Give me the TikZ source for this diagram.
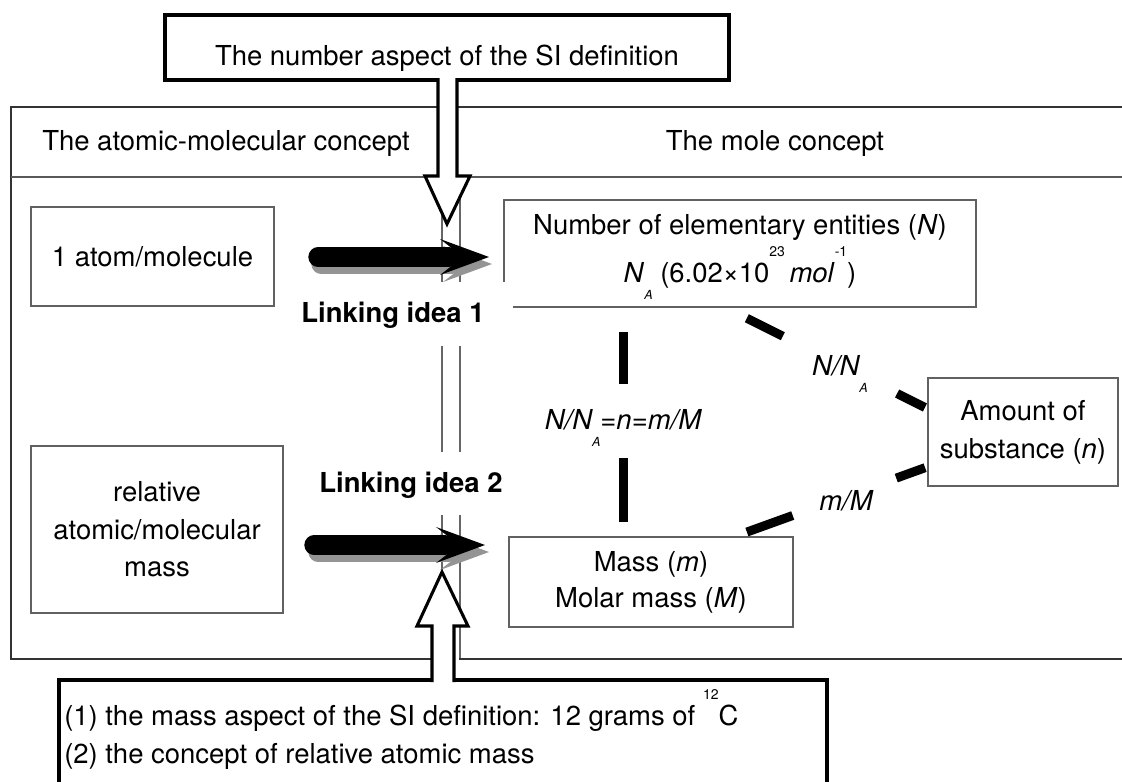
\documentclass[tikz,border=0pt]{standalone}
\usepackage{fontspec}
\setmainfont{TeX Gyre Heros}
\usetikzlibrary{calc}
\newcommand{\lowA}[1]{\smash{\raisebox{-12.75pt}{\fontsize{9.4}{10}\selectfont\itshape #1}}}
\newcommand{\hisup}[1]{\smash{\raisebox{19.5pt}{\fontsize{10.5}{11}\selectfont #1}}}
\newcommand{\fatarr}[3]{%
  \draw[#3,line width=14.5pt,line cap=round] (#1-171,#2) -- (#1-40,#2);
  \fill[#3] (#1-49,#2-18) -- (#1,#2) -- (#1-49,#2+18) -- (#1-38,#2+9.5) -- (#1-38,#2-9.5) -- cycle;}
\begin{document}
\begin{tikzpicture}[x=0.75pt,y=-0.75pt,
  txt/.style={font=\fontsize{20.6}{24}\selectfont, inner sep=0pt},
  ibox/.style={txt, draw=black!62, line width=1.5pt, align=center},
  blk/.style={draw=black, line width=2.3pt},
  mainl/.style={draw=black!80, line width=1.9pt},
  sepl/.style={draw=black!65, line width=1.5pt},
  divl/.style={draw=black!60, line width=1.1pt},
  conn/.style={draw=black, line width=6.75pt},
  hollow/.style={draw=black, line width=2.3pt, fill=white, line join=miter},
  lbl/.style={txt, font=\fontsize{20.6}{24}\selectfont\itshape},
  bld/.style={txt, font=\fontsize{20.6}{24}\selectfont\bfseries}]
\useasboundingbox (0,0) rectangle (1122,782);
\clip (0,0) rectangle (1122,782);
\fill[white] (0,0) rectangle (1122,782);

% top box
\node[minimum width=423pt, minimum height=48.75pt, inner sep=0pt] (topbox) at (447,47.5) {};
\draw[blk] (438,80) -- (165,80) -- (165,15) -- (729,15) -- (729,80) -- (457,80);
\node[txt] (toptxt) at (447,58) {The number aspect of the SI definition};

% main frame
\draw[mainl] (438,107) -- (11,107) -- (11,659) -- (432,659);
\draw[mainl] (457,107) -- (1140,107);
\draw[sepl] (11,177) -- (425,177);
\draw[sepl] (470,177) -- (1140,177);
\node[txt] (hleft) at (226,143) {The atomic-molecular concept};
\node[txt] (hright) at (775,143) {The mole concept};

% thin divider lines
\draw[divl] (442,180) -- (442,282) (460,180) -- (460,282);
\draw[divl] (442,346) -- (442,452) (460,346) -- (460,452);
\draw[divl] (442,515) -- (442,575);
\draw[divl] (460,515) -- (460,659);
\draw[mainl] (459,659) -- (1140,659);

% hollow arrows
\draw[hollow] (438,78) -- (438,176) -- (425,176) -- (447,224) -- (470,176) -- (457,176) -- (457,78);
\draw[hollow] (432,682) -- (432,626) -- (417,626) -- (442,572) -- (468,626) -- (454,626) -- (454,682);

% bottom box
\draw[blk] (432,680) -- (59,680) -- (59,800);
\draw[blk] (454,680) -- (827,680) -- (827,800);
\node[txt, anchor=west, align=left, font=\fontsize{20.6}{28.5}\selectfont] (bottxt) at (64,737)
  {(1) the mass aspect of the SI definition: 12 grams of \hisup{12}C\\(2) the concept of relative atomic mass};

% black linking arrows (with grey shadow)
\fatarr{492}{264}{black!42}
\fatarr{489}{257}{black}
\fatarr{489}{552}{black!42}
\fatarr{485}{545}{black}

% boxes
\node[ibox, minimum width=182.25pt, minimum height=74.25pt] (atom) at (152.5,256.5) {1 atom/molecule};
\node[ibox, minimum width=189pt, minimum height=125.25pt, font=\fontsize{20.6}{28.1}\selectfont] (rel) at (157,529.5) {relative\\atomic/molecular\\mass};
\node[minimum width=354pt, minimum height=80.25pt, inner sep=0pt] (num) at (740,253.5) {};
\draw[draw=black!62, line width=1.5pt] (num.south west) ++(9,0) -- (num.south east) -- (num.north east) -- (num.north west) -- ++(0,82);
\node[txt] (numA) at (740,227) {Number of elementary entities (\textit{N})};
\node[txt] (numB) at (740,275) {\textit{N}\lowA{A} (6.02×10\hisup{23}\,\textit{mol}\hisup{-1})};
\node[ibox, minimum width=142.5pt, minimum height=81pt, font=\fontsize{20.6}{28.5}\selectfont] (amt) at (1023,432) {Amount of\\substance (\textit{n})};
\node[ibox, minimum width=213pt, minimum height=67.5pt, font=\fontsize{20.6}{27}\selectfont] (mass) at (651,582) {Mass (\textit{m})\\Molar mass (\textit{M})};

% linking labels
\node[bld] (link1) at (393,315) {Linking idea 1};
\node[bld] (link2) at (411,485) {Linking idea 2};

% relation labels
\node[lbl] (lab1) at (623,420) {N/N\lowA{A}=n=m/M};
\node[lbl] (lab2) at (840,366) {N/N\lowA{A}};
\node[lbl] (lab3) at (846,501) {m/M};

% connectors
\coordinate (vA) at (num.south -| lab1.center);
\coordinate (vB) at (mass.north -| lab1.center);
\draw[conn] ($(vA)!0.109!(vB)$) -- ($(vA)!0.335!(vB)$);
\draw[conn] ($(vA)!0.661!(vB)$) -- ($(vA)!0.939!(vB)$);
\coordinate (dA) at ($(num.south)+(-15,0)$);
\coordinate (dB) at ($(amt.west)+(0,-23.5)$);
\draw[conn] ($(dA)!0.108!(dB)$) -- ($(dA)!0.286!(dB)$);
\draw[conn] ($(dA)!0.852!(dB)$) -- ($(dA)!0.99!(dB)$);
\coordinate (eA) at ($(mass.north)+(85,0)$);
\coordinate (eB) at ($(amt.west)+(0,35)$);
\draw[conn] ($(eA)!0.057!(eB)$) -- ($(eA)!0.297!(eB)$);
\draw[conn] ($(eA)!0.839!(eB)$) -- ($(eA)!0.99!(eB)$);
\end{tikzpicture}
\end{document}
